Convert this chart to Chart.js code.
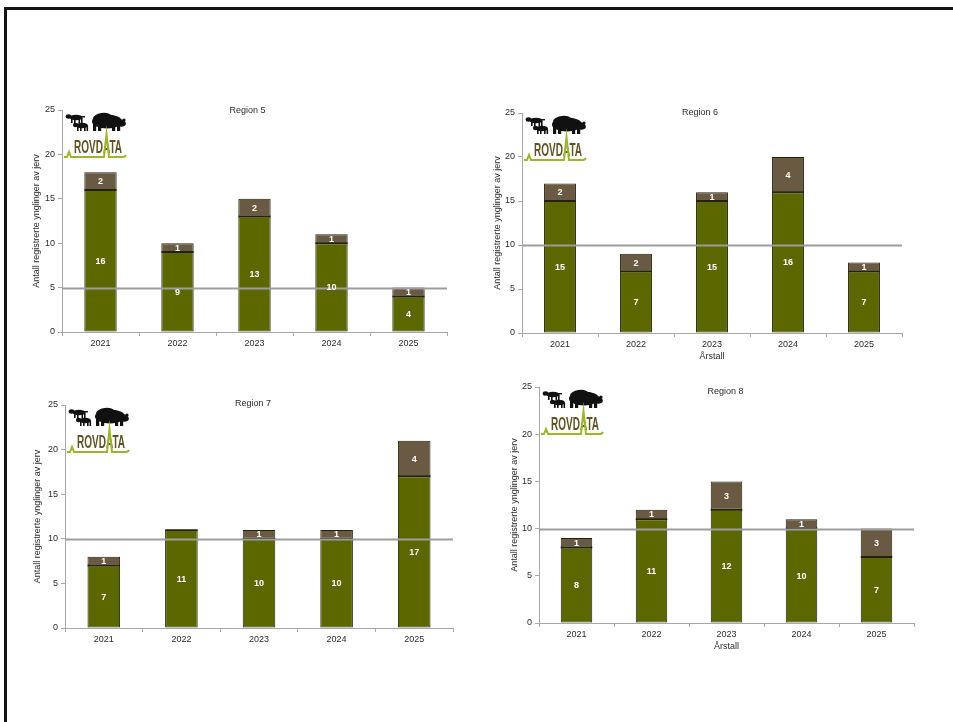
<!DOCTYPE html>
<html>
<head>
<meta charset="utf-8">
<script src="https://cdn.jsdelivr.net/npm/chart.js@4.4.1/dist/chart.umd.min.js"></script>
<style>
  html, body { margin: 0; padding: 0; background: #fff; width: 953px; height: 722px; overflow: hidden; position: relative; }
  #frame { position: absolute; left: 4px; top: 7px; width: 960px; height: 730px; border-top: 3px solid #151515; border-left: 3px solid #151515; }
  canvas { position: absolute; }
</style>
</head>
<body>
<div id="frame"></div>
<script>
// Years on the category axis and the value ticks on the count axis
const years = ['2021', '2022', '2023', '2024', '2025'];
const yTickValues = [0, 5, 10, 15, 20, 25];

// Registered litters per region: main count and the additional count stacked on top
const region5Main = [16, 9, 13, 10, 4];
const region5Extra = [2, 1, 2, 1, 1];
const region5Target = 5;

const region6Main = [15, 7, 15, 16, 7];
const region6Extra = [2, 2, 1, 4, 1];
const region6Target = 10;

const region7Main = [7, 11, 10, 10, 17];
const region7Extra = [1, 0, 1, 1, 4];
const region7Target = 10;

const region8Main = [8, 11, 12, 10, 7];
const region8Extra = [1, 1, 3, 1, 3];
const region8Target = 10;

const regionTitles = ['Region 5', 'Region 6', 'Region 7', 'Region 8'];
const yAxisTitle = 'Antall registrerte ynglinger av jerv';
const xAxisTitle = 'Årstall';
const logoText = 'ROVDATA';

// Page layout of the four panels (plot area edges in page pixels)
const panelLayout = [
  { area: [62, 110, 447, 332], yTitleX: 37, xTitle: false, titleDx: -7, titleDy: 1 },
  { area: [522, 113, 902, 333], yTitleX: 498, xTitle: true, titleDx: -12, titleDy: 0 },
  { area: [65, 405, 453, 628], yTitleX: 38, xTitle: false, titleDx: -6, titleDy: -1 },
  { area: [539, 387, 914, 623], yTitleX: 515, xTitle: true, titleDx: -1, titleDy: 5 }
];
const panelData = [
  { main: region5Main, extra: region5Extra, target: region5Target },
  { main: region6Main, extra: region6Extra, target: region6Target },
  { main: region7Main, extra: region7Extra, target: region7Target },
  { main: region8Main, extra: region8Extra, target: region8Target }
];

const FONT = "'Liberation Sans', Arial, sans-serif";
const GREEN = '#5d6700';
const BROWN = '#6a5a44';
const EDGE = '#23230c';
const AXIS = '#a8a8a8';
const TEXT = '#2b2b2b';

// Small Rovdata logo: animal silhouettes over the word and a green pulse line
function drawLogo(ctx, x, y) {
  ctx.save();
  ctx.translate(x, y);
  ctx.fillStyle = '#111';
  // large bear
  ctx.beginPath();
  ctx.ellipse(43, 8.5, 15, 7, 0, 0, Math.PI * 2);
  ctx.fill();
  ctx.beginPath();
  ctx.ellipse(38, 4, 9, 4, -0.15, 0, Math.PI * 2);
  ctx.fill();
  ctx.beginPath();
  ctx.ellipse(57, 10, 5, 3.6, 0.25, 0, Math.PI * 2);
  ctx.fill();
  ctx.beginPath();
  ctx.arc(60, 7, 1.6, 0, Math.PI * 2);
  ctx.fill();
  [[29, 3.2], [34, 3.2], [48, 3.2], [53, 3.2]].forEach(([lx, w]) => ctx.fillRect(lx, 10, w, 8));
  // first small animal
  ctx.beginPath();
  ctx.ellipse(12, 4.5, 6.5, 2.8, 0, 0, Math.PI * 2);
  ctx.fill();
  ctx.beginPath();
  ctx.ellipse(4.5, 3.5, 2.8, 2.2, 0, 0, Math.PI * 2);
  ctx.fill();
  [[7, 1.6], [10, 1.6], [14.5, 1.6], [17, 1.6]].forEach(([lx, w]) => ctx.fillRect(lx, 5, w, 5));
  ctx.fillRect(17, 3, 4, 1.4);
  // second small animal
  ctx.beginPath();
  ctx.ellipse(18, 12.5, 6, 2.8, 0, 0, Math.PI * 2);
  ctx.fill();
  ctx.beginPath();
  ctx.ellipse(11.5, 12, 2.6, 2.2, 0, 0, Math.PI * 2);
  ctx.fill();
  [[13, 1.6], [16, 1.6], [20, 1.6], [22.5, 1.6]].forEach(([lx, w]) => ctx.fillRect(lx, 13, w, 5));
  // word mark
  ctx.fillStyle = '#5f5224';
  ctx.font = 'bold 19px ' + FONT;
  ctx.textAlign = 'left';
  ctx.textBaseline = 'alphabetic';
  ctx.fillText(logoText, 10, 40, 48);
  // pulse line
  ctx.strokeStyle = '#9cb62b';
  ctx.lineWidth = 2;
  ctx.lineJoin = 'miter';
  ctx.beginPath();
  ctx.moveTo(0, 44);
  ctx.lineTo(3, 44);
  ctx.lineTo(5, 39);
  ctx.lineTo(7, 44);
  ctx.lineTo(40, 44);
  ctx.lineTo(42.5, 21);
  ctx.lineTo(45, 44);
  ctx.lineTo(59, 44);
  ctx.quadraticCurveTo(61, 44, 62, 42);
  ctx.stroke();
  ctx.restore();
}

// Panel decorations: segment dividers, target line, segment values, region title and logo
const panelDecor = {
  id: 'panelDecor',
  afterDatasetsDraw(chart, args, opts) {
    const ctx = chart.ctx;
    const area = chart.chartArea;
    const yScale = chart.scales.y;
    ctx.save();
    // dark divider where the upper segment sits on the main segment
    ctx.strokeStyle = EDGE;
    ctx.lineWidth = 1.5;
    chart.getDatasetMeta(0).data.forEach((bar) => {
      const p = bar.getProps(['x', 'y', 'width'], true);
      ctx.beginPath();
      ctx.moveTo(p.x - p.width / 2, p.y);
      ctx.lineTo(p.x + p.width / 2, p.y);
      ctx.stroke();
    });
    // target line across the whole plot
    const ty = Math.round(yScale.getPixelForValue(opts.target)) + 0.5;
    ctx.strokeStyle = '#9d9d9d';
    ctx.lineWidth = 2;
    ctx.beginPath();
    ctx.moveTo(area.left, ty);
    ctx.lineTo(area.right, ty);
    ctx.stroke();
    // values inside each segment
    ctx.fillStyle = '#ffffff';
    ctx.font = 'bold 9px ' + FONT;
    ctx.textAlign = 'center';
    ctx.textBaseline = 'middle';
    chart.data.datasets.forEach((ds, di) => {
      const meta = chart.getDatasetMeta(di);
      meta.data.forEach((bar, i) => {
        const v = ds.data[i];
        if (!v) return;
        const p = bar.getProps(['x', 'y', 'base'], true);
        ctx.fillText(String(v), p.x, (p.y + p.base) / 2 + 0.5);
      });
    });
    // region title
    ctx.fillStyle = TEXT;
    ctx.font = '9px ' + FONT;
    ctx.fillText(opts.title, (area.left + area.right) / 2 + opts.titleDx, area.top + opts.titleDy);
    ctx.restore();
    drawLogo(ctx, area.left + 2, area.top + 3);
  }
};

panelLayout.forEach((lay, idx) => {
  const data = panelData[idx];
  const [L, T, R, B] = lay.area;
  const cl = L - 45, ct = T - 20;
  const cw = R + 10 - cl, ch = B + 36 - ct;
  const canvas = document.createElement('canvas');
  canvas.width = cw;
  canvas.height = ch;
  canvas.style.left = cl + 'px';
  canvas.style.top = ct + 'px';
  canvas.style.width = cw + 'px';
  canvas.style.height = ch + 'px';
  document.body.appendChild(canvas);
  const lineH = 9 * 1.2;
  const padLeft = lay.yTitleX - cl - lineH / 2;
  const yWidth = 45 - padLeft;

  new Chart(canvas, {
    type: 'bar',
    data: {
      labels: years,
      datasets: [
        { data: data.main, backgroundColor: GREEN, borderColor: EDGE, borderWidth: 1, borderSkipped: false,
          barPercentage: 0.42, categoryPercentage: 1 },
        { data: data.extra, backgroundColor: BROWN, borderColor: EDGE, borderWidth: 1, borderSkipped: false,
          barPercentage: 0.42, categoryPercentage: 1 }
      ]
    },
    options: {
      responsive: false,
      animation: false,
      devicePixelRatio: 1,
      layout: { padding: { left: padLeft, top: T - ct, right: 10, bottom: 0 } },
      plugins: {
        legend: { display: false },
        tooltip: { enabled: false },
        panelDecor: { target: data.target, title: regionTitles[idx], titleDx: lay.titleDx, titleDy: lay.titleDy }
      },
      scales: {
        x: {
          stacked: true,
          grid: { offset: true, drawOnChartArea: false, tickLength: 4, color: AXIS, lineWidth: 1 },
          border: { color: AXIS, width: 1 },
          ticks: { color: TEXT, font: { family: FONT, size: 9 }, padding: 2, maxRotation: 0 },
          title: { display: lay.xTitle, text: xAxisTitle, color: TEXT, font: { family: FONT, size: 9 },
                   padding: { top: 0, bottom: 6.6 } },
          afterFit(s) { s.height = 36; }
        },
        y: {
          stacked: true,
          min: 0,
          max: 25,
          afterBuildTicks(s) { s.ticks = yTickValues.map(v => ({ value: v })); },
          grid: { drawOnChartArea: false, tickLength: 4, color: AXIS },
          border: { color: AXIS, width: 1 },
          ticks: { color: TEXT, font: { family: FONT, size: 9 }, padding: 3 },
          title: { display: true, text: yAxisTitle, color: TEXT, font: { family: FONT, size: 9 },
                   padding: { top: 0, bottom: 0 } },
          afterFit(s) { s.width = yWidth; }
        }
      }
    },
    plugins: [panelDecor]
  });
});
</script>
</body>
</html>
